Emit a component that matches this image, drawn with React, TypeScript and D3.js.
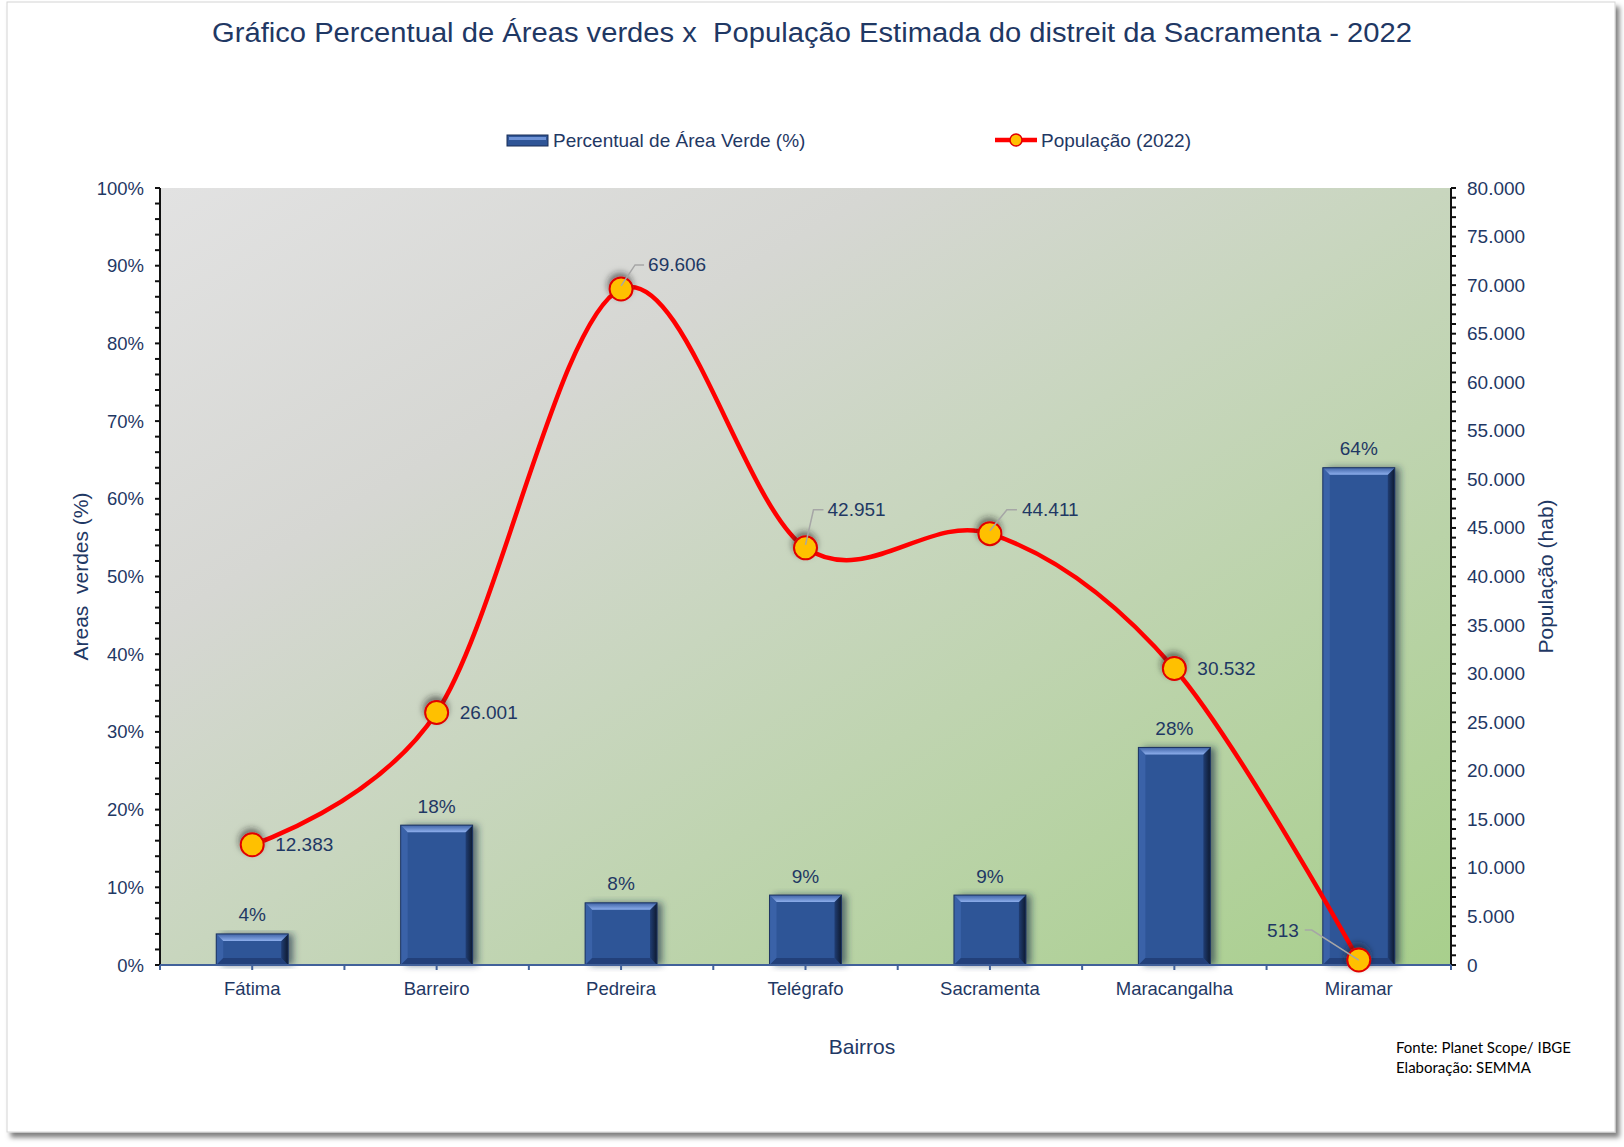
import * as d3 from "d3";

// data
const bairros = ["Fátima", "Barreiro", "Pedreira", "Telégrafo", "Sacramenta", "Maracangalha", "Miramar"];
const percentualVerde = [4, 18, 8, 9, 9, 28, 64];
const populacao = [12383, 26001, 69606, 42951, 44411, 30532, 513];
const leftTicks = [0, 10, 20, 30, 40, 50, 60, 70, 80, 90, 100];
const rightTicks = [0, 5000, 10000, 15000, 20000, 25000, 30000, 35000, 40000, 45000, 50000, 55000, 60000, 65000, 70000, 75000, 80000];

// where each population label sits relative to its point (leader = gray callout line)
const popLabelPlacement = [
    { dx: 23, dy: 0, anchor: "start", leader: null },
    { dx: 23, dy: 0, anchor: "start", leader: null },
    { dx: 27, dy: -24, anchor: "start", leader: [[0, -3], [14, -24], [23, -24]] },
    { dx: 22, dy: -38, anchor: "start", leader: [[0, -3], [8, -38], [18, -38]] },
    { dx: 32, dy: -24, anchor: "start", leader: [[0, -3], [17, -24], [27, -24]] },
    { dx: 23, dy: 0, anchor: "start", leader: null },
    { dx: -60, dy: -30, anchor: "end", leader: [[0, 0], [-47, -30], [-54, -30]] },
];

const W = 1624;
const H = 1147;
const plot = { left: 160, right: 1451, top: 188, bottom: 965 };
const navy = "#1F3864";
const font = "'Liberation Sans', Arial, sans-serif";

const ptBR = d3.formatLocale({ decimal: ",", thousands: ".", grouping: [3], currency: ["R$", ""] });
const fmtPop = ptBR.format(",");

const App = () => {
    const x = d3
        .scaleBand()
        .domain(bairros)
        .range([plot.left, plot.right])
        .paddingInner(0.61)
        .paddingOuter(0.305);
    const step = x.step();
    const bw = x.bandwidth();
    const cx = (c) => x(c) + bw / 2;

    const yL = d3.scaleLinear().domain([0, 100]).range([plot.bottom, plot.top]);
    const yR = d3.scaleLinear().domain([0, 80000]).range([plot.bottom, plot.top]);

    const leftMinor = d3.range(0, 100.001, 2);
    const rightMinor = d3.range(0, 80001, 1000);

    // x axis ticks at band edges and centres
    const xTicks = d3.range(0, bairros.length * 2 + 1).map((i) => plot.left + (i * step) / 2);

    const linePts = bairros.map((c, i) => [cx(c), yR(populacao[i])]);
    const linePath = d3.line().curve(d3.curveCardinal.tension(0))(linePts);

    const bevel = (bx, by, w, h) => {
        const b = Math.min(7, h / 2);
        return {
            top: `${bx},${by} ${bx + w},${by} ${bx + w - b},${by + b} ${bx + b},${by + b}`,
            right: `${bx + w},${by} ${bx + w},${by + h} ${bx + w - b},${by + h - b} ${bx + w - b},${by + b}`,
            bottom: `${bx},${by + h} ${bx + w},${by + h} ${bx + w - b},${by + h - b} ${bx + b},${by + h - b}`,
            left: `${bx},${by} ${bx + b},${by + b} ${bx + b},${by + h - b} ${bx},${by + h}`,
        };
    };

    return (
        <div style={{ position: "absolute", left: 0, top: 0 }}>
            <svg width={W} height={H} style={{ display: "block" }}>
                <defs>
                    <linearGradient id="plotBg" x1="0" y1="0" x2="1" y2="1">
                        <stop offset="0%" stopColor="#E2E2E2" />
                        <stop offset="28%" stopColor="#D6D7D3" />
                        <stop offset="50%" stopColor="#C8D6BE" />
                        <stop offset="100%" stopColor="#A8CF8C" />
                    </linearGradient>
                    <linearGradient id="bevelTop" x1="0" y1="0" x2="0" y2="1">
                        <stop offset="0%" stopColor="#3F63A6" />
                        <stop offset="100%" stopColor="#8DAEEC" />
                    </linearGradient>
                    <linearGradient id="bevelRight" x1="0" y1="0" x2="1" y2="0">
                        <stop offset="0%" stopColor="#203D73" />
                        <stop offset="100%" stopColor="#0E1A30" />
                    </linearGradient>
                    <filter id="frameShadow" x="-5%" y="-5%" width="110%" height="110%">
                        <feDropShadow dx="4" dy="5" stdDeviation="2.5" floodColor="#000" floodOpacity="0.5" />
                    </filter>
                    <filter id="barShadow" x="-20%" y="-10%" width="150%" height="120%">
                        <feDropShadow dx="5" dy="0" stdDeviation="3.5" floodColor="#1C2E4A" floodOpacity="0.65" />
                    </filter>
                    <filter id="dotShadow" x="-80%" y="-80%" width="260%" height="260%">
                        <feDropShadow dx="-1" dy="-4" stdDeviation="3" floodColor="#222" floodOpacity="0.55" />
                    </filter>
                </defs>

                {/* outer frame */}
                <rect x={7} y={2} width={1608} height={1130} fill="#fff" stroke="#D4D4D4" strokeWidth={1} filter="url(#frameShadow)" />

                {/* title */}
                <text
                    x={812}
                    y={33}
                    textAnchor="middle"
                    dominantBaseline="central"
                    fill={navy}
                    fontFamily={font}
                    fontSize={27}
                    textLength={1200}
                    lengthAdjust="spacingAndGlyphs"
                    style={{ whiteSpace: "pre" }}
                >
                    {"Gráfico Percentual de Áreas verdes x  População Estimada do distreit da Sacramenta - 2022"}
                </text>

                {/* legend */}
                <g fontFamily={font} fontSize={19} fill={navy}>
                    <rect x={507} y={135} width={41} height={11} fill="#2F5597" stroke="#1A2F57" strokeWidth={1} />
                    <rect x={509} y={137} width={37} height={3} fill="#6F93D6" />
                    <text x={553} y={140} dominantBaseline="central">Percentual de Área Verde (%)</text>
                    <line x1={995} x2={1037} y1={140} y2={140} stroke="#FF0000" strokeWidth={4.5} />
                    <circle cx={1016} cy={140} r={6} fill="#FFC000" stroke="#E00000" strokeWidth={1.5} />
                    <text x={1041} y={140} dominantBaseline="central">População (2022)</text>
                </g>

                {/* plot area */}
                <rect x={plot.left} y={plot.top} width={plot.right - plot.left} height={plot.bottom - plot.top} fill="url(#plotBg)" />

                {/* bars */}
                {bairros.map((c, i) => {
                    const bx = x(c);
                    const by = yL(percentualVerde[i]);
                    const h = plot.bottom - by;
                    const bv = bevel(bx, by, bw, h);
                    return (
                        <g key={c}>
                            <g filter="url(#barShadow)">
                                <rect x={bx} y={by} width={bw} height={h} fill="#2F5597" />
                            </g>
                            <polygon points={bv.left} fill="#3A62A8" />
                            <polygon points={bv.bottom} fill="#22407A" />
                            <polygon points={bv.right} fill="url(#bevelRight)" />
                            <polygon points={bv.top} fill="url(#bevelTop)" />
                            <rect x={bx} y={by} width={bw} height={h} fill="none" stroke="#1D3461" strokeWidth={1} />
                            <text x={cx(c)} y={by - 19} textAnchor="middle" dominantBaseline="central" fontFamily={font} fontSize={19} fill={navy}>
                                {percentualVerde[i]}%
                            </text>
                        </g>
                    );
                })}

                {/* left axis */}
                <g stroke="#111" strokeWidth={2}>
                    <line x1={plot.left} x2={plot.left} y1={plot.top} y2={plot.bottom} />
                    {leftMinor.map((t) => (
                        <line key={t} x1={plot.left - 5} x2={plot.left} y1={yL(t)} y2={yL(t)} />
                    ))}
                </g>
                <g fontFamily={font} fontSize={18.5} fill={navy}>
                    {leftTicks.map((t) => (
                        <text key={t} x={144} y={yL(t)} textAnchor="end" dominantBaseline="central">
                            {t}%
                        </text>
                    ))}
                </g>

                {/* right axis */}
                <g stroke="#111" strokeWidth={2}>
                    <line x1={plot.right} x2={plot.right} y1={plot.top} y2={plot.bottom} />
                    {rightMinor.map((t) => (
                        <line key={t} x1={plot.right} x2={plot.right + 5} y1={yR(t)} y2={yR(t)} />
                    ))}
                </g>
                <g fontFamily={font} fontSize={19} fill={navy}>
                    {rightTicks.map((t) => (
                        <text key={t} x={1467} y={yR(t)} textAnchor="start" dominantBaseline="central">
                            {fmtPop(t)}
                        </text>
                    ))}
                </g>

                {/* x axis */}
                <g stroke="#41619A" strokeWidth={2}>
                    <line x1={plot.left} x2={plot.right} y1={plot.bottom} y2={plot.bottom} />
                    {xTicks.map((t) => (
                        <line key={t} x1={t} x2={t} y1={plot.bottom} y2={plot.bottom + 5} />
                    ))}
                </g>
                <g fontFamily={font} fontSize={18.5} fill={navy}>
                    {bairros.map((c) => (
                        <text key={c} x={cx(c)} y={988} textAnchor="middle" dominantBaseline="central">
                            {c}
                        </text>
                    ))}
                </g>

                {/* axis titles */}
                <g fontFamily={font} fontSize={21} fill={navy}>
                    <text x={862} y={1046} textAnchor="middle" dominantBaseline="central">Bairros</text>
                    <text transform={`translate(80,${(plot.top + plot.bottom) / 2}) rotate(-90)`} textAnchor="middle" dominantBaseline="central" style={{ whiteSpace: "pre" }}>
                        {"Areas  verdes (%)"}
                    </text>
                    <text transform={`translate(1545,${(plot.top + plot.bottom) / 2}) rotate(-90)`} textAnchor="middle" dominantBaseline="central">
                        População (hab)
                    </text>
                </g>

                {/* population line */}
                <path d={linePath} fill="none" stroke="#FF0000" strokeWidth={4.5} strokeLinejoin="round" />
                {linePts.map(([px, py], i) => (
                    <circle key={bairros[i]} cx={px} cy={py} r={11.5} fill="#FFC000" stroke="#E00000" strokeWidth={2} filter="url(#dotShadow)" />
                ))}
                {linePts.map(([px, py], i) => {
                    const pl = popLabelPlacement[i];
                    return (
                        <g key={bairros[i]}>
                            {pl.leader && (
                                <polyline
                                    points={pl.leader.map(([lx, ly]) => `${px + lx},${py + ly}`).join(" ")}
                                    fill="none"
                                    stroke="#A6A6A6"
                                    strokeWidth={1.5}
                                />
                            )}
                            <text x={px + pl.dx} y={py + pl.dy} textAnchor={pl.anchor} dominantBaseline="central" fontFamily={font} fontSize={19} fill={navy}>
                                {fmtPop(populacao[i])}
                            </text>
                        </g>
                    );
                })}

                {/* source note */}
                <g fontFamily="Lato, 'Noto Sans', sans-serif" fontSize={15} fill="#000">
                    <text x={1396} y={1053}>Fonte: Planet Scope/ IBGE</text>
                    <text x={1396} y={1073}>Elaboração: SEMMA</text>
                </g>
            </svg>
        </div>
    );
};

export default App;
